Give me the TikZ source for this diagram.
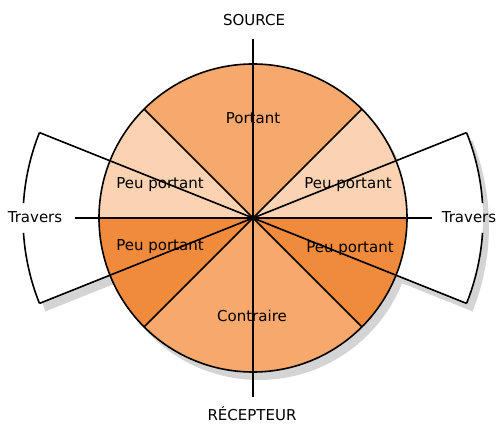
\documentclass[tikz,border=0pt]{standalone}
\usepackage{fontspec}
\setmainfont{DejaVu Sans}
\definecolor{porte}{HTML}{F7A86C}
\definecolor{peuhaut}{HTML}{FBD2B2}
\definecolor{peubas}{HTML}{F08A3C}
\definecolor{ombre}{HTML}{D4D4D4}
\begin{document}
\begin{tikzpicture}[x=1pt,y=1pt,
  lbl/.style={font=\fontsize{15}{17}\selectfont,inner sep=0pt},
  trait/.style={line width=1.6pt}]
\useasboundingbox (0,0) rectangle (497,425);
\begin{scope}[shift={(253,207)}]
\coordinate (O) at (0,0);
\coordinate (haut) at (0,179);
\coordinate (bas) at (0,-179);
\coordinate (gauche) at (-178,0);
\coordinate (droite) at (179,0);
\coordinate (hg) at (158.2:230);
\coordinate (bg) at (201.8:230);
\coordinate (hd) at (21.8:230);
\coordinate (bd) at (-21.8:230);
% ombre
\begin{scope}[shift={(6,-8)}]
\fill[ombre] (0,0) circle (154);
\fill[ombre] (158.2:230) arc (158.2:201.8:230) -- (0,0) -- cycle;
\fill[ombre] (-21.8:230) arc (-21.8:21.8:230) -- (0,0) -- cycle;
\end{scope}
% ailes
\fill[white] (hg) arc (158.2:201.8:230) -- (O) -- cycle;
\fill[white] (bd) arc (-21.8:21.8:230) -- (O) -- cycle;
% secteurs
\fill[porte] (O) -- (45:154) arc (45:135:154) -- cycle;
\fill[peuhaut] (O) -- (135:154) arc (135:180:154) -- cycle;
\fill[peubas] (O) -- (180:154) arc (180:225:154) -- cycle;
\fill[porte] (O) -- (225:154) arc (225:315:154) -- cycle;
\fill[peubas] (O) -- (315:154) arc (315:360:154) -- cycle;
\fill[peuhaut] (O) -- (0:154) arc (0:45:154) -- cycle;
\draw[trait] (O) circle (154);
\foreach \a in {45,135,225,315}
  \draw[trait] (O) -- (\a:154);
\draw[trait] (haut) -- (bas);
\draw[trait] (gauche) -- (droite);
\draw[trait] (hg) -- (O);
\draw[trait] (bg) -- (O);
\draw[trait] (hd) -- (O);
\draw[trait] (bd) -- (O);
\draw[trait] (hg) arc (158.2:176.3:230);
\draw[trait] (bg) arc (201.8:183.7:230);
\draw[trait] (hd) arc (21.8:3.7:230);
\draw[trait] (bd) arc (-21.8:-3.7:230);
% textes
\node[lbl] (source) at (1,198) {SOURCE};
\node[lbl] (recepteur) at (-1,-196) {RÉCEPTEUR};
\node[lbl] (portant) at (0,100) {Portant};
\node[lbl] (contraire) at (-1,-98) {Contraire};
\node[lbl] (peuhg) at (-93,33) {Peu portant};
\node[lbl] (peubg) at (-93,-29) {Peu portant};
\node[lbl] (peuhd) at (95,33) {Peu portant};
\node[lbl] (peubd) at (97,-31) {Peu portant};
\node[lbl] (traversg) at (-218,1) {Travers};
\node[lbl] (traversd) at (216,1) {Travers};
\end{scope}
\end{tikzpicture}
\end{document}
